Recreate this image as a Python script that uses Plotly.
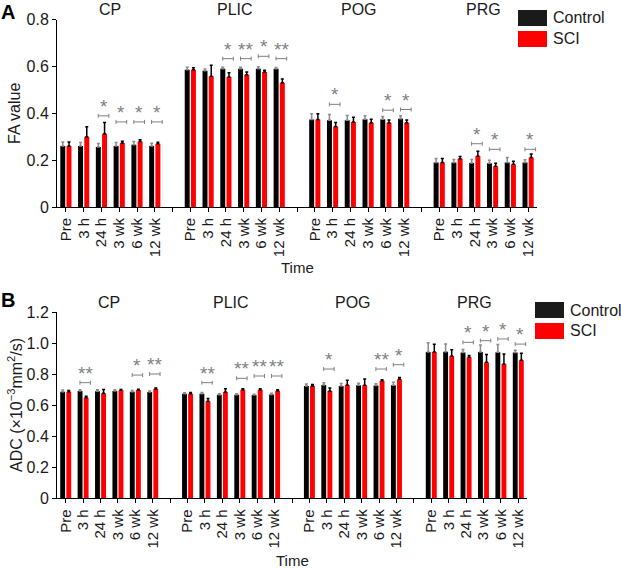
import plotly.graph_objects as go

W, H = 621, 568
FONT = "Liberation Sans, Arial, sans-serif"

# ---------------- data ----------------
regions = ["CP", "PLIC", "POG", "PRG"]
timepoints = ["Pre", "3 h", "24 h", "3 wk", "6 wk", "12 wk"]
series_names = ["Control", "SCI"]

fa_control = [0.260, 0.260, 0.256, 0.260, 0.266, 0.260,
              0.586, 0.581, 0.590, 0.590, 0.590, 0.590,
              0.373, 0.370, 0.370, 0.374, 0.374, 0.377,
              0.190, 0.190, 0.188, 0.187, 0.190, 0.190]
fa_sci = [0.260, 0.300, 0.313, 0.273, 0.279, 0.270,
          0.586, 0.558, 0.555, 0.564, 0.576, 0.530,
          0.373, 0.344, 0.363, 0.359, 0.359, 0.359,
          0.190, 0.206, 0.218, 0.174, 0.182, 0.211]
fa_control_err = [0.017, 0.015, 0.015, 0.015, 0.013, 0.012,
                  0.010, 0.008, 0.006, 0.006, 0.008, 0.005,
                  0.025, 0.025, 0.020, 0.015, 0.012, 0.012,
                  0.017, 0.013, 0.015, 0.013, 0.021, 0.012]
fa_sci_err = [0.017, 0.042, 0.048, 0.008, 0.008, 0.006,
              0.008, 0.047, 0.018, 0.012, 0.008, 0.016,
              0.025, 0.017, 0.020, 0.015, 0.012, 0.012,
              0.017, 0.010, 0.020, 0.013, 0.013, 0.015]

adc_control = [0.688, 0.692, 0.690, 0.692, 0.688, 0.686,
               0.675, 0.675, 0.668, 0.668, 0.666, 0.670,
               0.725, 0.731, 0.725, 0.729, 0.727, 0.729,
               0.944, 0.946, 0.940, 0.944, 0.942, 0.940]
adc_sci = [0.688, 0.649, 0.677, 0.697, 0.699, 0.705,
           0.675, 0.626, 0.686, 0.701, 0.701, 0.694,
           0.725, 0.692, 0.731, 0.729, 0.759, 0.768,
           0.944, 0.918, 0.910, 0.877, 0.866, 0.890]
adc_control_err = [0.010, 0.008, 0.010, 0.008, 0.008, 0.006,
                   0.006, 0.008, 0.006, 0.006, 0.006, 0.008,
                   0.012, 0.015, 0.015, 0.013, 0.012, 0.020,
                   0.060, 0.050, 0.020, 0.045, 0.050, 0.015]
adc_sci_err = [0.008, 0.010, 0.025, 0.005, 0.005, 0.006,
               0.008, 0.018, 0.020, 0.005, 0.006, 0.006,
               0.010, 0.020, 0.030, 0.040, 0.006, 0.012,
               0.050, 0.040, 0.012, 0.050, 0.065, 0.045]

# significance markers: flat category index, label, bracket level
fa_sig_idx = [2, 3, 4, 5, 8, 9, 10, 11, 13, 16, 17, 20, 21, 23]
fa_sig_text = ["*", "*", "*", "*", "*", "**", "*", "**", "*", "*", "*", "*", "*", "*"]
fa_sig_y = [0.389, 0.363, 0.363, 0.363, 0.633, 0.633, 0.643, 0.633,
            0.438, 0.413, 0.416, 0.270, 0.246, 0.246]

adc_sig_idx = [1, 4, 5, 7, 9, 10, 11, 13, 16, 17, 20, 21, 22, 23]
adc_sig_text = ["**", "*", "**", "**", "**", "**", "**", "*", "**", "*", "*", "*", "*", "*"]
adc_sig_y = [0.746, 0.795, 0.802, 0.746, 0.774, 0.789, 0.789,
             0.834, 0.834, 0.862, 1.006, 1.017, 1.028, 0.995]

fa_ticks = [0, 0.2, 0.4, 0.6, 0.8]
fa_tick_labels = ["0", "0.2", "0.4", "0.6", "0.8"]
adc_ticks = [0, 0.2, 0.4, 0.6, 0.8, 1.0, 1.2]
adc_tick_labels = ["0", "0.2", "0.4", "0.6", "0.8", "1.0", "1.2"]

# ---------------- helpers ----------------
n_t = len(timepoints)
positions = [g * (n_t + 1) + i for g in range(len(regions)) for i in range(n_t)]
separators = [g * (n_t + 1) + n_t for g in range(len(regions) - 1)]
xlabels = [timepoints[i] for g in range(len(regions)) for i in range(n_t)]
group_centers = [g * (n_t + 1) + (n_t - 1) / 2 for g in range(len(regions))]
x_range = [-0.5, len(regions) * (n_t + 1) - 1.5]
SIG_OFFSET = 0.12  # markers sit slightly toward the SCI bar

BLACK = "#000000"
RED = "#ff0000"
GRAY = "#808080"
TXT = "#1a1a1a"

fig = go.Figure()


def px_x(p):
    return p / W


def px_y(p):
    return 1 - p / H


panels = [
    dict(xa="x", ya="y", ctrl=fa_control, sci=fa_sci, ce=fa_control_err, se=fa_sci_err,
         sidx=fa_sig_idx, stxt=fa_sig_text, sy=fa_sig_y, ry=10),
    dict(xa="x2", ya="y2", ctrl=adc_control, sci=adc_sci, ce=adc_control_err, se=adc_sci_err,
         sidx=adc_sig_idx, stxt=adc_sig_text, sy=adc_sig_y, ry=302),
]

annotations = []
for p in panels:
    fig.add_trace(go.Bar(
        x=positions, y=p["ctrl"], name=series_names[0], marker_color=BLACK,
        marker_line_width=0, xaxis=p["xa"], yaxis=p["ya"], showlegend=False,
        error_y=dict(type="data", array=p["ce"], arrayminus=[0] * len(p["ce"]),
                     symmetric=False, color="#8c8c8c", thickness=1.5, width=1.5),
    ))
    fig.add_trace(go.Bar(
        x=positions, y=p["sci"], name=series_names[1], marker_color=RED,
        marker_line_width=0, xaxis=p["xa"], yaxis=p["ya"], showlegend=False,
        error_y=dict(type="data", array=p["se"], arrayminus=[0] * len(p["se"]),
                     symmetric=False, color=BLACK, thickness=1.5, width=1.5),
    ))
    sx = [positions[k] + SIG_OFFSET for k in p["sidx"]]
    fig.add_trace(go.Scatter(
        x=sx, y=p["sy"], mode="markers", xaxis=p["xa"], yaxis=p["ya"],
        marker=dict(size=1, color="rgba(0,0,0,0)"), showlegend=False, hoverinfo="skip",
        error_x=dict(type="constant", value=0.3, color=GRAY, thickness=1, width=2),
    ))
    for xv, yv, t in zip(sx, p["sy"], p["stxt"]):
        annotations.append(dict(
            x=xv, y=yv, xref=p["xa"], yref=p["ya"], text=t, showarrow=False,
            xanchor="center", yanchor="bottom", yshift=-3,
            font=dict(family=FONT, size=19, color=GRAY),
        ))
    for r, c in zip(regions, group_centers):
        annotations.append(dict(
            x=c, xref=p["xa"], y=px_y(p["ry"]), yref="paper", xanchor="center",
            yanchor="middle", text=r, showarrow=False,
            font=dict(family=FONT, size=16, color=TXT),
        ))

# axis titles and panel letters
annotations += [
    dict(x=px_x(14), y=px_y(114), text="FA value", textangle=-90,
         font=dict(family=FONT, size=16, color=TXT)),
    dict(x=px_x(15), y=px_y(405),
         text="ADC (×10<sup>−3</sup>mm<sup>2</sup>/s)", textangle=-90,
         font=dict(family=FONT, size=16, color=TXT)),
    dict(x=px_x(297), y=px_y(267), text="Time", font=dict(family=FONT, size=15, color=TXT)),
    dict(x=px_x(292), y=px_y(560), text="Time", font=dict(family=FONT, size=15, color=TXT)),
    dict(x=px_x(8), y=px_y(12), text="<b>A</b>", font=dict(family=FONT, size=20, color="#000")),
    dict(x=px_x(8), y=px_y(300), text="<b>B</b>", font=dict(family=FONT, size=20, color="#000")),
]
for a in annotations[-6:]:
    a.update(xref="paper", yref="paper", showarrow=False, xanchor="center", yanchor="middle")

# legend boxes (drawn)
shapes = []
legend_specs = [(518, 10), (535, 302)]
for lx, ly in legend_specs:
    for j, (nm, col) in enumerate(zip(series_names, ["#1a1a1a", RED])):
        y0 = ly + j * 21
        shapes.append(dict(type="rect", xref="paper", yref="paper",
                           x0=px_x(lx), x1=px_x(lx + 29), y0=px_y(y0 + 16), y1=px_y(y0),
                           fillcolor=col, line_width=0))
        annotations.append(dict(x=px_x(lx + 33), y=px_y(y0 + 8), xref="paper", yref="paper",
                                text=nm, showarrow=False, xanchor="left", yanchor="middle",
                                font=dict(family=FONT, size=16, color=TXT)))

tickvals_x = positions + separators
ticktext_x = xlabels + [" "] * len(separators)

xaxis_common = dict(
    range=x_range, tickmode="array", tickvals=tickvals_x, ticktext=ticktext_x,
    tickangle=-90, ticks="outside", ticklen=4, tickwidth=1, tickcolor="#000",
    showline=True, linecolor="#000", linewidth=1, showgrid=False, zeroline=False,
    tickfont=dict(family=FONT, size=15, color=TXT), automargin=False,
)
yaxis_common = dict(
    ticks="outside", ticklen=4, tickwidth=1, tickcolor="#000",
    showline=True, linecolor="#000", linewidth=1, showgrid=False, zeroline=False,
    tickfont=dict(family=FONT, size=16, color=TXT), tickmode="array", automargin=False,
)

fig.update_layout(
    width=W, height=H, margin=dict(l=0, r=0, t=0, b=0, autoexpand=False),
    paper_bgcolor="white", plot_bgcolor="white",
    barmode="group", bargap=0.3, bargroupgap=0.2,
    xaxis=dict(domain=[px_x(57), px_x(537)], anchor="y", **xaxis_common),
    yaxis=dict(domain=[px_y(207), px_y(19.5)], anchor="x", range=[0, 0.8],
               tickvals=fa_ticks, ticktext=fa_tick_labels, **yaxis_common),
    xaxis2=dict(domain=[px_x(57), px_x(527)], anchor="y2", **xaxis_common),
    yaxis2=dict(domain=[px_y(498.3), px_y(312.3)], anchor="x2", range=[0, 1.2],
                tickvals=adc_ticks, ticktext=adc_tick_labels, **yaxis_common),
    annotations=annotations, shapes=shapes,
    font=dict(family=FONT),
)

fig.write_html(
    "out.html",
    config={"displayModeBar": False},
    post_script="document.body.style.margin='0';document.body.style.overflow='hidden';",
)
